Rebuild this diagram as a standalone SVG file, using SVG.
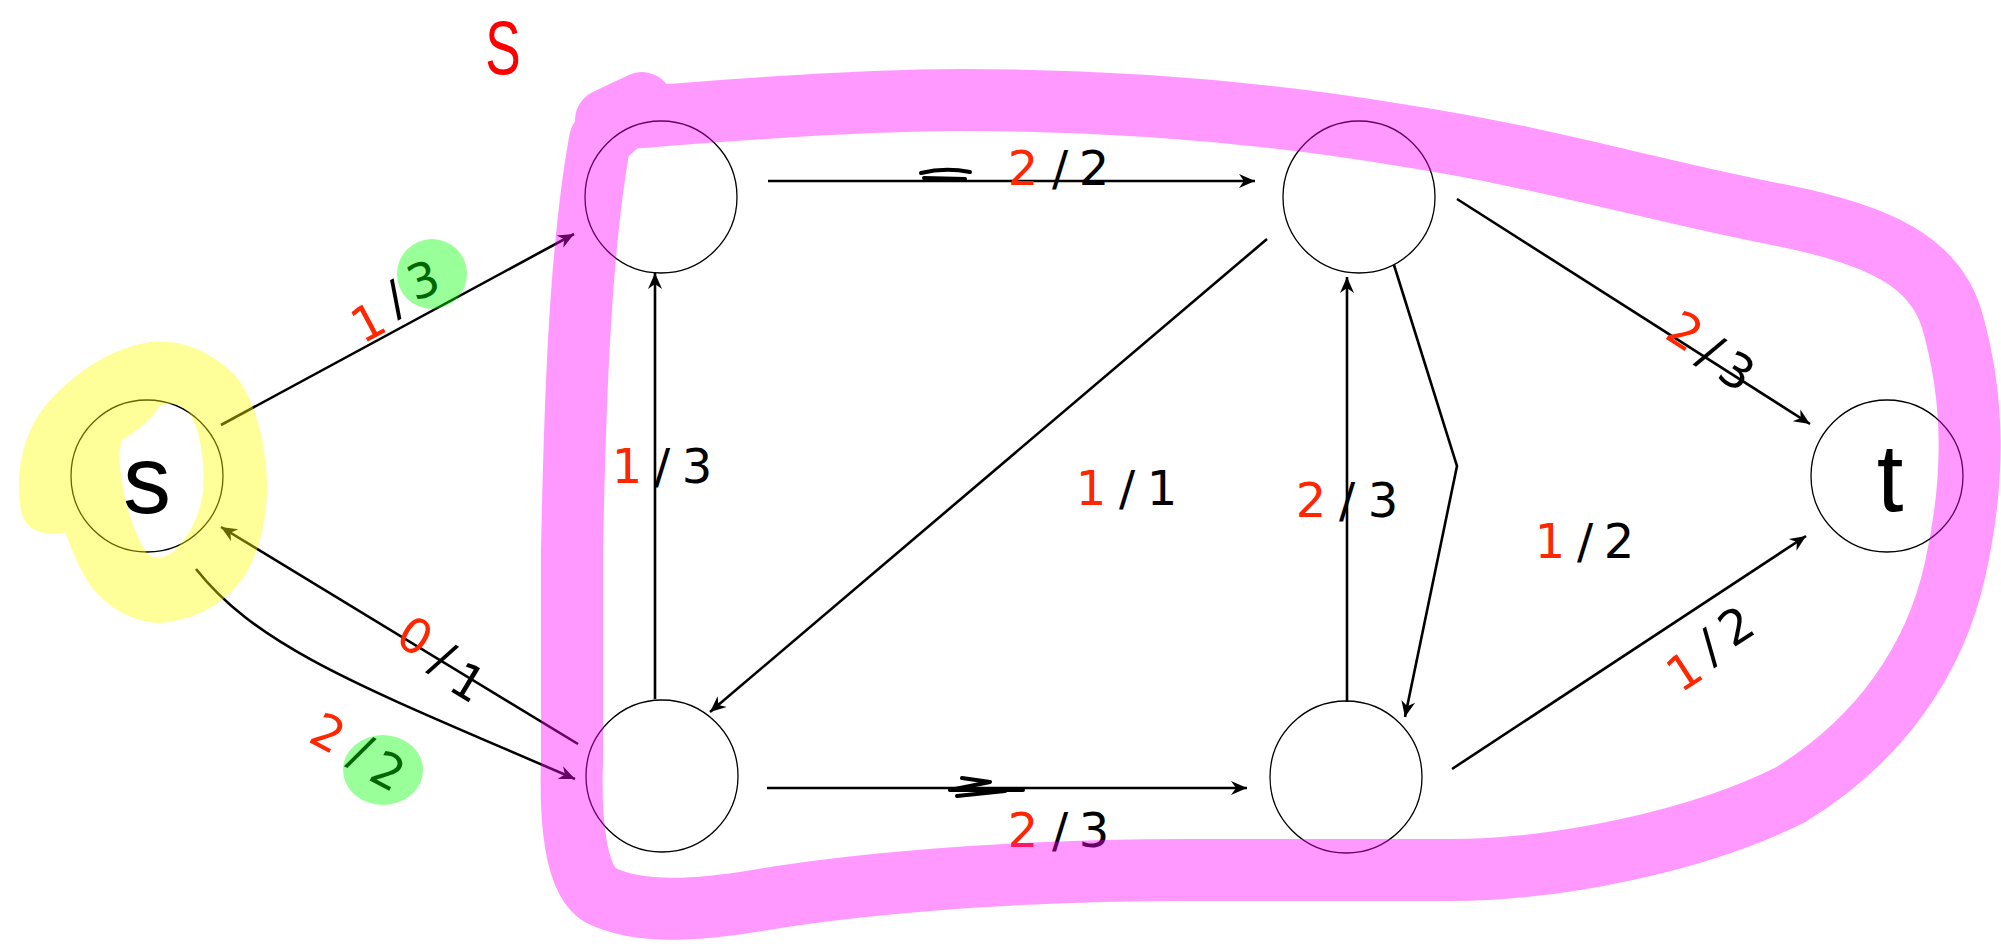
<svg xmlns="http://www.w3.org/2000/svg" width="2001" height="949" viewBox="0 0 2001 949">
<style>
.node{fill:none;stroke:#000;stroke-width:1.3}
.edge{fill:none;stroke:#000;stroke-width:2.6}
.lbl{font-family:"DejaVu Sans",sans-serif;font-size:48px;text-anchor:middle}
.r{fill:#ff2600}
.k{fill:#000}
.nt{font-family:"Liberation Sans",Arial,sans-serif;font-size:96px;text-anchor:middle;fill:#000}
.scr{fill:none;stroke:#000;stroke-width:4;stroke-linecap:round;stroke-linejoin:round}
</style>
<defs>
<marker id="arr" viewBox="-18 -10 20 20" refX="0" refY="0" markerWidth="20" markerHeight="20" markerUnits="userSpaceOnUse" orient="auto">
<path d="M0,0 L-16,-7 L-11,0 L-16,7 Z" fill="#000"/>
</marker>
</defs>
<rect x="0" y="0" width="2001" height="949" fill="#fff"/>

<g id="connectors">
<line class="edge" x1="221" y1="425" x2="574" y2="234" marker-end="url(#arr)"/>
<line class="edge" x1="578" y1="744" x2="221" y2="527" marker-end="url(#arr)"/>
<path class="edge" d="M196,569 C260,650 370,690 575,779" marker-end="url(#arr)"/>
<line class="edge" x1="768" y1="181" x2="1255" y2="181" marker-end="url(#arr)"/>
<line class="edge" x1="1267" y1="239" x2="710" y2="712" marker-end="url(#arr)"/>
<line class="edge" x1="655" y1="699" x2="655" y2="273" marker-end="url(#arr)"/>
<line class="edge" x1="767" y1="788" x2="1247" y2="788" marker-end="url(#arr)"/>
<line class="edge" x1="1347" y1="702" x2="1347" y2="277" marker-end="url(#arr)"/>
<polyline class="edge" points="1394,265 1457,466 1405,717" marker-end="url(#arr)"/>
<line class="edge" x1="1457" y1="199" x2="1810" y2="424" marker-end="url(#arr)"/>
<line class="edge" x1="1452" y1="769" x2="1806" y2="536" marker-end="url(#arr)"/>
<path class="scr" d="M921,173 Q945,167 970,172 M924,178 L965,179"/>
<path class="scr" d="M962,778 L990,782 L950,790 L1023,790 M957,796 L1005,791"/>
</g>

<g id="node-s">
<circle class="node" cx="147" cy="476" r="76"/>
<text class="nt" x="147" y="513">s</text>
</g>
<g id="node-a"><circle class="node" cx="661" cy="197" r="76"/></g>
<g id="node-b"><circle class="node" cx="1359" cy="197" r="76"/></g>
<g id="node-c"><circle class="node" cx="662" cy="776" r="76"/></g>
<g id="node-d"><circle class="node" cx="1346" cy="777" r="76"/></g>
<g id="node-t">
<circle class="node" cx="1887" cy="476" r="76"/>
<text class="nt" x="1890" y="511">t</text>
</g>

<g id="labels">
<!-- s->A -->
<text class="lbl r" transform="translate(368,322) rotate(-28)" y="17">1</text>
<text class="lbl k" transform="translate(395,298) rotate(-28)" y="17">/</text>
<text class="lbl k" transform="translate(423,280) rotate(-20)" y="17">3</text>
<!-- C->s -->
<text class="lbl r" transform="translate(415,636) rotate(31)" y="17">0</text>
<text class="lbl k" transform="translate(443,658) rotate(31)" y="17">/</text>
<text class="lbl k" transform="translate(468,682) rotate(31)" y="17">1</text>
<!-- s->C -->
<text class="lbl r" transform="translate(328,733) rotate(28)" y="17">2</text>
<text class="lbl k" transform="translate(361,751) rotate(28)" y="17">/</text>
<text class="lbl k" transform="translate(388,771) rotate(28)" y="17">2</text>
<!-- A->B -->
<text class="lbl r" x="1023" y="185">2</text>
<text class="lbl k" x="1060" y="185">/</text>
<text class="lbl k" x="1094" y="185">2</text>
<!-- C->A -->
<text class="lbl r" x="627" y="483">1</text>
<text class="lbl k" x="662" y="483">/</text>
<text class="lbl k" x="697" y="483">3</text>
<!-- B->C -->
<text class="lbl r" x="1091" y="505">1</text>
<text class="lbl k" x="1127" y="505">/</text>
<text class="lbl k" x="1162" y="505">1</text>
<!-- D->B -->
<text class="lbl r" x="1311" y="517">2</text>
<text class="lbl k" x="1347" y="517">/</text>
<text class="lbl k" x="1383" y="517">3</text>
<!-- B->D -->
<text class="lbl r" x="1550" y="558">1</text>
<text class="lbl k" x="1585" y="558">/</text>
<text class="lbl k" x="1619" y="558">2</text>
<!-- C->D -->
<text class="lbl r" x="1023" y="847">2</text>
<text class="lbl k" x="1060" y="847">/</text>
<text class="lbl k" x="1094" y="847">3</text>
<!-- B->t -->
<text class="lbl r" transform="translate(1685,331) rotate(33)" y="17">2</text>
<text class="lbl k" transform="translate(1711,351) rotate(33)" y="17">/</text>
<text class="lbl k" transform="translate(1737,371) rotate(33)" y="17">3</text>
<!-- D->t -->
<text class="lbl r" transform="translate(1684,671) rotate(-33)" y="17">1</text>
<text class="lbl k" transform="translate(1709,646) rotate(-33)" y="17">/</text>
<text class="lbl k" transform="translate(1736,626) rotate(-33)" y="17">2</text>
<!-- handwritten S -->
<text transform="translate(503,74) scale(0.7,1)" font-family="'Liberation Sans',Arial,sans-serif" font-size="76" text-anchor="middle" fill="#ff0000">S</text>
</g>

<g id="highlights">
<g opacity="0.4">
<path fill="#ffff00" fill-rule="evenodd" d="M20,505 C15,455 30,420 55,395 C85,365 115,348 150,342 C185,338 215,355 235,375 C255,400 265,440 267,480 C268,520 258,560 240,582 C222,605 195,620 160,623 C130,622 105,605 90,585 C80,570 72,550 65,532 C58,535 45,535 35,530 C25,525 21,515 20,505 Z M122,440 C135,432 150,422 158,408 C168,400 182,404 190,414 C200,430 205,460 203,492 C200,515 190,535 175,550 C165,560 152,560 146,552 C133,530 125,505 121,475 C119,460 119,448 122,440 Z"/>
</g>
<g opacity="0.4">
<circle cx="432" cy="274" r="35" fill="#00ff00"/>
<ellipse cx="383" cy="770" rx="40" ry="35" fill="#00ff00"/>
</g>
<g opacity="0.4">
<path fill="none" stroke="#ff00ff" stroke-width="62" stroke-linejoin="round" stroke-linecap="round" d="M642,103 L606,120 C700,112 850,100 960,100 C1100,100 1250,110 1400,135 C1550,158 1650,190 1780,215 C1880,235 1935,262 1952,320 C1975,400 1975,480 1955,570 C1935,660 1880,740 1790,795 C1700,840 1560,870 1450,870 L1190,870 C1000,870 850,885 760,900 C700,910 640,915 600,895 C575,880 570,820 572,760 L572,550 C575,400 580,250 600,140 Z"/>
</g>
</g>
</svg>
